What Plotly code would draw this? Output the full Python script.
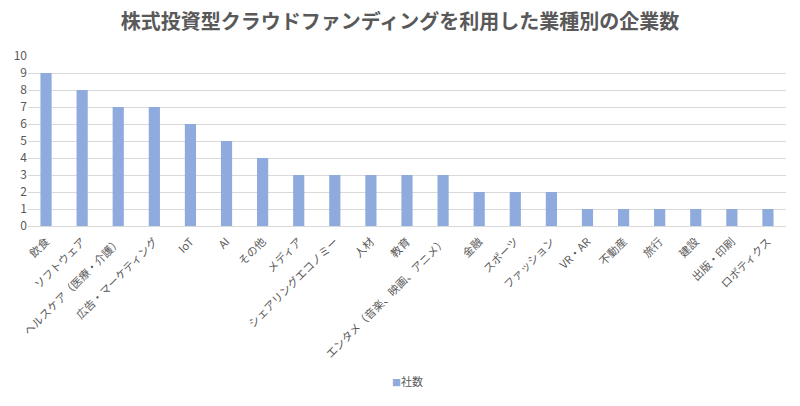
import plotly.graph_objects as go

categories = ["飲食", "ソフトウェア", "ヘルスケア（医療・介護）", "広告・マーケティング", "IoT", "AI",
              "その他", "メディア", "シェアリングエコノミー", "人材", "教育", "エンタメ（音楽、映画、アニメ）",
              "金融", "スポーツ", "ファッション", "VR・AR", "不動産", "旅行", "建設", "出版・印刷", "ロボティクス"]
values = [9, 8, 7, 7, 6, 5, 4, 3, 3, 3, 3, 3, 2, 2, 2, 1, 1, 1, 1, 1, 1]
series_name = "社数"
title = "株式投資型クラウドファンディングを利用した業種別の企業数"

FONT = "Noto Sans CJK JP"
BAR = "#8FAADC"
fig = go.Figure()
fig.add_trace(go.Bar(x=categories, y=values, name=series_name,
                     marker=dict(color=BAR, line=dict(width=0)), width=0.31, showlegend=False))
fig.update_layout(
    width=800, height=406,
    margin=dict(l=28, r=14, t=56, b=180),
    paper_bgcolor="white", plot_bgcolor="white",
    font=dict(family=FONT, color="#595959", size=11),
    title=dict(text="<b>" + title + "</b>", x=0.5, xanchor="center", y=0.945, yanchor="middle",
               font=dict(family=FONT, size=20, color="#595959")),
    showlegend=False,
    bargap=0.69,
)
fig.add_annotation(text="<span style='color:%s;font-size:9px'>■</span>%s" % (BAR, series_name),
                   xref="paper", yref="paper", x=0.5, y=-0.91, xanchor="center", yanchor="middle",
                   showarrow=False, font=dict(family=FONT, size=11, color="#595959"))
fig.update_xaxes(tickangle=-45, showgrid=False, showline=True, linecolor="#D9D9D9", linewidth=1,
                 ticks="", ticklabelstandoff=4, tickfont=dict(size=11, color="#595959"))
fig.update_yaxes(range=[0, 10], dtick=1, showgrid=True, gridcolor="#D9D9D9", gridwidth=1,
                 zeroline=False, ticks="", tickfont=dict(size=12, color="#595959"))
fig.write_html("out.html")
